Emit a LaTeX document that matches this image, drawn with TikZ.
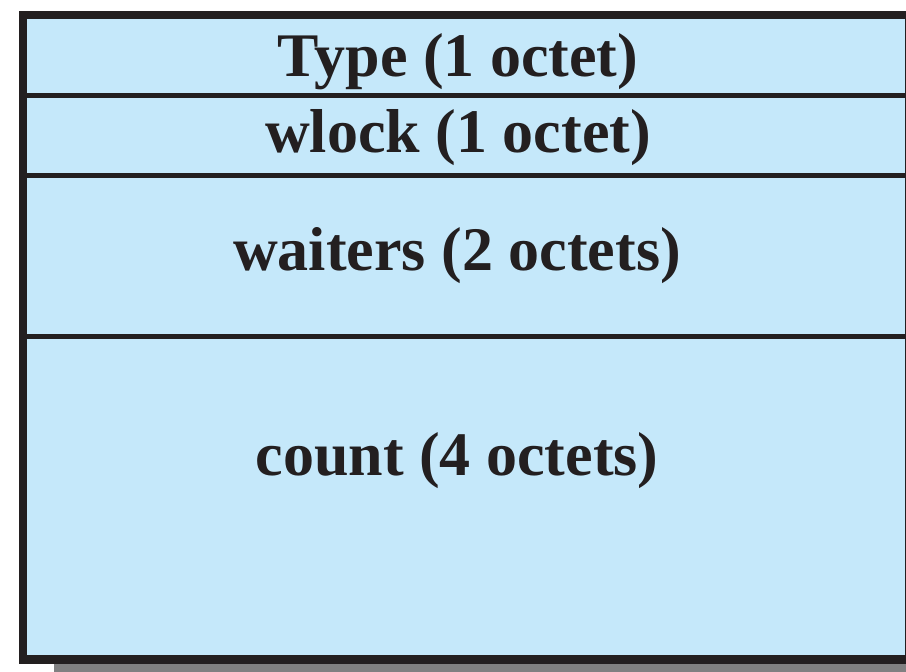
\documentclass[tikz,border=0pt]{standalone}
\usepackage{fontspec}
\setmainfont{Liberation Serif}
\definecolor{boxfill}{RGB}{197,232,250}
\definecolor{boxline}{RGB}{35,31,32}
\definecolor{shadowgray}{RGB}{128,128,129}
\begin{document}
\begin{tikzpicture}[x=1pt,y=-1pt,
  lbl/.style={anchor=base,inner sep=0pt,font=\fontsize{62}{62}\selectfont\bfseries,text=boxline},
  divider/.style={draw=boxline,line width=4.5pt}]
\useasboundingbox (0,0) rectangle (906,672);
\clip (0,0) rectangle (906,672);
% shadow
\fill[shadowgray] (54,640) rectangle (930,672);
% box
\fill[boxfill] (23,15) rectangle (909.5,659.5);
% row dividers
\coordinate (l1) at (23,95.5);  \coordinate (r1) at (909.5,95.5);
\coordinate (l2) at (23,175.5); \coordinate (r2) at (909.5,175.5);
\coordinate (l3) at (23,336.5); \coordinate (r3) at (909.5,336.5);
\draw[divider] (l1) -- (r1);
\draw[divider] (l2) -- (r2);
\draw[divider] (l3) -- (r3);
\draw[draw=boxline,line width=8.5pt] (23,15) rectangle (909.5,659.5);
% labels
\node[lbl] (type) at (458,76) {Type (1 octet)};
\node[lbl] (wlock) at (458,152) {wlock (1 octet)};
\node[lbl] (waiters) at (457,270) {waiters (2 octets)};
\node[lbl] (count) at (457,475) {count (4 octets)};
\end{tikzpicture}
\end{document}
